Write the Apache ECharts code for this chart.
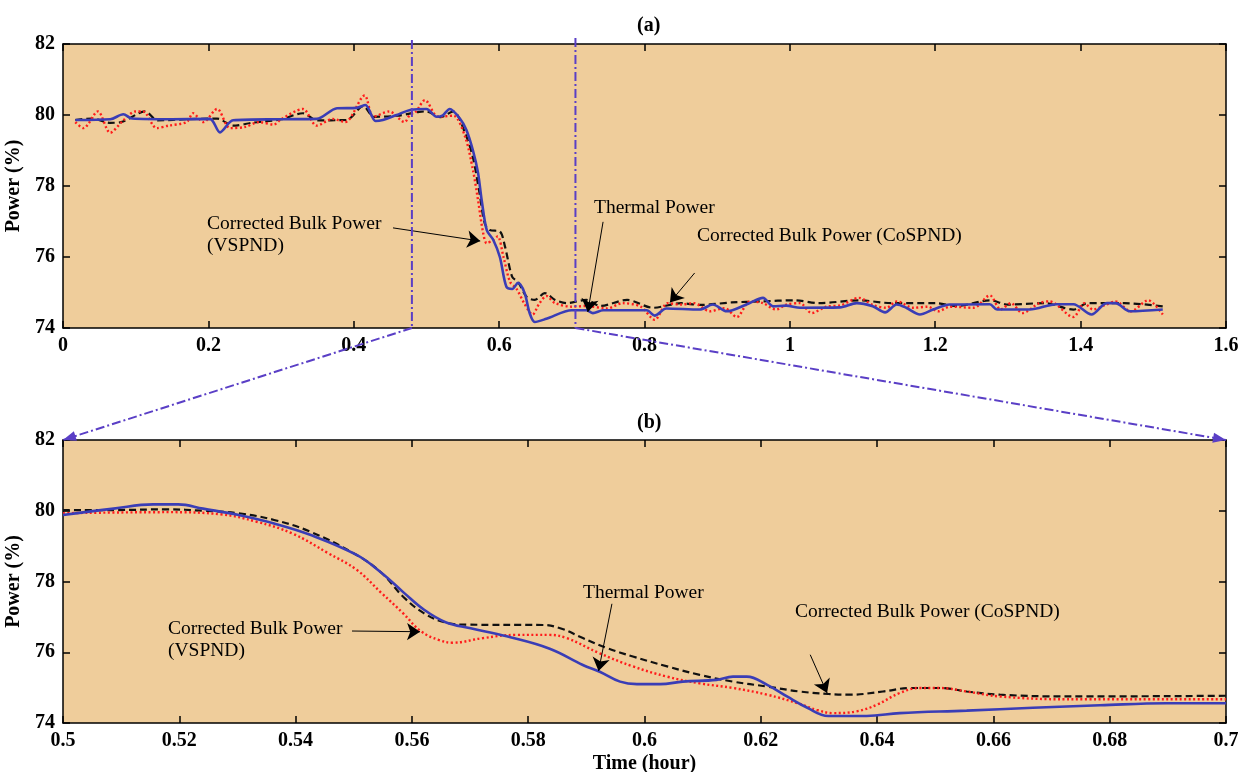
<!DOCTYPE html>
<html>
<head>
<meta charset="utf-8">
<title>Power (%)</title>
<script src="https://cdn.jsdelivr.net/npm/echarts@6.0.0/dist/echarts.min.js"></script>
<style>
html, body { margin: 0; padding: 0; background: #fff; }
#main { width: 1238px; height: 772px; }
</style>
</head>
<body>
<div id="main"></div>
<script>
// axis ranges: [min, max, interval]
var fullTimeRange = [0, 1.6, 0.2];
var zoomTimeRange = [0.5, 0.7, 0.02];
var powerRange = [74, 82, 2];

// (a) whole run, [time (hour), power (%)]
var fullThermal = [[0.017,79.86],[0.065,79.88],[0.083,80.02],[0.095,79.9],[0.15,79.88],[0.202,79.89],[0.216,79.51],[0.234,79.85],[0.30,79.88],[0.349,79.89],[0.377,80.19],[0.404,80.2],[0.416,80.28],[0.43,79.83],[0.44,79.86],[0.459,80.0],[0.479,80.15],[0.50,80.17],[0.514,79.95],[0.522,79.98],[0.532,80.17],[0.546,79.9],[0.555,79.58],[0.564,79.0],[0.571,78.37],[0.576,77.6],[0.583,76.76],[0.592,76.48],[0.601,76.0],[0.610,75.16],[0.618,75.1],[0.626,75.27],[0.635,74.99],[0.642,74.42],[0.649,74.17],[0.665,74.26],[0.70,74.5],[0.72,74.5],[0.729,74.42],[0.743,74.5],[0.803,74.5],[0.814,74.35],[0.83,74.55],[0.876,74.52],[0.894,74.66],[0.913,74.47],[0.941,74.67],[0.963,74.85],[0.977,74.61],[0.995,74.63],[1.014,74.57],[1.069,74.58],[1.092,74.7],[1.114,74.61],[1.131,74.44],[1.147,74.66],[1.16,74.57],[1.179,74.38],[1.197,74.52],[1.22,74.66],[1.275,74.67],[1.285,74.52],[1.33,74.52],[1.367,74.67],[1.39,74.67],[1.415,74.38],[1.436,74.7],[1.448,74.7],[1.468,74.47],[1.513,74.52]];
var fullVspnd = [[0.017,79.8],[0.028,79.63],[0.048,80.1],[0.065,79.5],[0.083,79.85],[0.1,80.1],[0.11,80.1],[0.129,79.63],[0.145,79.7],[0.17,79.8],[0.179,80.05],[0.193,79.8],[0.212,80.17],[0.23,79.63],[0.25,79.66],[0.27,79.8],[0.29,79.73],[0.30,79.88],[0.33,80.17],[0.349,79.7],[0.371,79.89],[0.388,79.8],[0.415,80.55],[0.427,79.95],[0.449,80.1],[0.47,79.8],[0.477,80.0],[0.485,80.08],[0.498,80.42],[0.516,79.95],[0.537,79.98],[0.553,79.4],[0.564,78.45],[0.571,77.6],[0.578,76.68],[0.583,76.39],[0.592,76.48],[0.598,76.58],[0.606,76.0],[0.615,75.3],[0.624,75.1],[0.635,74.68],[0.646,74.38],[0.655,74.68],[0.665,74.9],[0.677,74.7],[0.70,74.6],[0.72,74.62],[0.748,74.55],[0.77,74.7],[0.795,74.6],[0.814,74.23],[0.832,74.7],[0.85,74.66],[0.868,74.7],[0.89,74.47],[0.91,74.56],[0.927,74.31],[0.945,74.75],[0.963,74.7],[0.981,74.52],[0.995,74.66],[1.014,74.7],[1.03,74.42],[1.05,74.6],[1.07,74.64],[1.095,74.85],[1.115,74.64],[1.133,74.57],[1.147,74.75],[1.17,74.57],[1.19,74.6],[1.204,74.47],[1.22,74.6],[1.253,74.57],[1.275,74.92],[1.29,74.52],[1.304,74.7],[1.32,74.42],[1.343,74.7],[1.357,74.75],[1.39,74.31],[1.405,74.7],[1.417,74.52],[1.435,74.66],[1.448,74.75],[1.469,74.47],[1.493,74.78],[1.513,74.38]];
var fullCospnd = [[0.017,79.86],[0.04,79.9],[0.065,79.78],[0.08,79.8],[0.113,80.1],[0.13,79.85],[0.17,79.88],[0.212,79.9],[0.234,79.7],[0.26,79.78],[0.30,79.88],[0.33,80.05],[0.349,79.85],[0.39,79.86],[0.413,80.25],[0.428,79.95],[0.46,79.98],[0.49,80.09],[0.50,80.1],[0.519,79.94],[0.537,80.1],[0.553,79.5],[0.564,78.8],[0.573,77.8],[0.58,76.96],[0.587,76.76],[0.601,76.72],[0.608,76.3],[0.618,75.44],[0.626,75.3],[0.638,74.87],[0.649,74.79],[0.663,74.98],[0.677,74.79],[0.693,74.7],[0.72,74.79],[0.739,74.62],[0.776,74.79],[0.812,74.57],[0.85,74.7],[0.876,74.65],[0.92,74.72],[0.96,74.75],[1.007,74.78],[1.04,74.7],[1.095,74.78],[1.14,74.7],[1.2,74.7],[1.23,74.62],[1.275,74.78],[1.3,74.66],[1.35,74.7],[1.39,74.52],[1.41,74.7],[1.46,74.7],[1.513,74.61]];

// (b) zoom on 0.5 - 0.7 hour
var zoomThermal = [[0.5,79.88],[0.5087,80.06],[0.5155,80.18],[0.5198,80.18],[0.5241,80.06],[0.5302,79.88],[0.5363,79.64],[0.5425,79.32],[0.5505,78.75],[0.5548,78.24],[0.5585,77.7],[0.5621,77.2],[0.5658,76.85],[0.5701,76.68],[0.5763,76.45],[0.5837,76.1],[0.5894,75.64],[0.5923,75.45],[0.5958,75.17],[0.5987,75.1],[0.6027,75.1],[0.6066,75.17],[0.6124,75.22],[0.6152,75.31],[0.6176,75.31],[0.6211,75.08],[0.6245,74.75],[0.628,74.43],[0.6316,74.2],[0.6382,74.2],[0.6439,74.28],[0.6554,74.35],[0.6668,74.43],[0.6783,74.5],[0.6898,74.56],[0.7,74.56]];
var zoomVspnd = [[0.5,79.93],[0.5179,79.96],[0.5271,79.9],[0.5333,79.69],[0.5394,79.36],[0.5456,78.8],[0.5505,78.33],[0.5548,77.67],[0.5585,77.1],[0.5615,76.6],[0.5646,76.35],[0.567,76.27],[0.5722,76.4],[0.578,76.49],[0.5837,76.49],[0.5866,76.4],[0.5923,75.97],[0.598,75.6],[0.6039,75.31],[0.6095,75.12],[0.6152,74.99],[0.6211,74.8],[0.6267,74.54],[0.6296,74.37],[0.6324,74.28],[0.6365,74.33],[0.64,74.52],[0.6439,74.85],[0.6473,74.99],[0.6508,74.99],[0.6554,74.89],[0.6611,74.75],[0.6727,74.67],[0.7,74.67]];
var zoomCospnd = [[0.5,80.02],[0.5087,80.02],[0.5179,80.04],[0.5241,80.0],[0.5302,79.93],[0.5363,79.74],[0.5425,79.41],[0.5505,78.75],[0.5548,78.24],[0.5585,77.57],[0.5621,77.1],[0.5658,76.84],[0.5695,76.78],[0.5825,76.77],[0.5855,76.68],[0.5894,76.4],[0.5935,76.12],[0.598,75.88],[0.6039,75.6],[0.6095,75.36],[0.6152,75.17],[0.6211,75.03],[0.6267,74.89],[0.6316,74.82],[0.6353,74.8],[0.641,74.89],[0.6457,74.99],[0.6508,74.99],[0.6554,74.89],[0.6611,74.8],[0.6727,74.75],[0.7,74.77]];

var serif = 'Liberation Serif';
var zoomColor = '#5a3fc6';

function valueAxis(grid, range, pos, labels) {
	return {
		type : 'value',
		gridIndex : grid,
		position : pos,
		min : range[0],
		max : range[1],
		interval : range[2],
		axisLine : { show : true, onZero : false, lineStyle : { color : '#000', width : 1.5 } },
		axisTick : { show : true, inside : true, length : 7, lineStyle : { color : '#000', width : 1.5 } },
		axisLabel : { show : labels, color : '#000', fontFamily : serif, fontWeight : 'bold', fontSize : 20, margin : 8 },
		splitLine : { show : false }
	};
}

function powerAxis(grid, pos, labels) {
	var ax = valueAxis(grid, powerRange, pos, labels);
	if (labels) {
		ax.name = 'Power (%)';
		ax.nameLocation = 'middle';
		ax.nameGap = 29;
		ax.nameTextStyle = { color : '#000', fontFamily : serif, fontWeight : 'bold', fontSize : 20 };
	}
	return ax;
}

function curve(name, data, axis, kind, smooth, arrows) {
	var styles = {
		thermal : { color : '#3a3db6', width : 2.6, type : 'solid' },
		vspnd : { color : '#ff1a1a', width : 2.4, type : [2, 2.5] },
		cospnd : { color : '#111', width : 2.2, type : [7, 4] }
	};
	var s = {
		name : name,
		type : 'line',
		xAxisIndex : axis,
		yAxisIndex : axis,
		data : data,
		showSymbol : false,
		smooth : smooth,
		lineStyle : styles[kind],
		z : kind == 'thermal' ? 4 : 3
	};
	if (arrows) {
		// annotation pointers
		s.markLine = {
			silent : true,
			symbol : [ 'none', 'arrow' ],
			symbolSize : 13,
			label : { show : false },
			lineStyle : { color : '#000', width : 1, type : 'solid' },
			itemStyle : { color : '#000' },
			data : arrows.map(function(a) {
				return [ { coord : a[0] }, { coord : a[1] } ];
			})
		};
	}
	return s;
}

function note(text, left, top) {
	return {
		type : 'text',
		left : left,
		top : top,
		z : 10,
		style : { text : text, fill : '#000', font : '19.5px "Liberation Serif"', lineHeight : 22 }
	};
}

var chart = echarts.init(document.getElementById('main'));

var option = {
	animation : false,
	backgroundColor : '#fff',
	title : [
		{ text : '(a)', left : 632, top : 11, textStyle : { fontFamily : serif, fontWeight : 'bold', fontSize : 20, color : '#000' } },
		{ text : '(b)', left : 632, top : 408, textStyle : { fontFamily : serif, fontWeight : 'bold', fontSize : 20, color : '#000' } }
	],
	grid : [
		{ left : 63, right : 12, top : 44, height : 284, show : true, backgroundColor : '#efcd9b', borderWidth : 0, containLabel : false, outerBoundsMode : 'none' },
		{ left : 63, right : 12, top : 440, height : 283, show : true, backgroundColor : '#efcd9b', borderWidth : 0, containLabel : false, outerBoundsMode : 'none' }
	],
	xAxis : [
		valueAxis(0, fullTimeRange, 'bottom', true),
		valueAxis(0, fullTimeRange, 'top', false),
		valueAxis(1, zoomTimeRange, 'bottom', true),
		valueAxis(1, zoomTimeRange, 'top', false)
	],
	yAxis : [
		powerAxis(0, 'left', true),
		powerAxis(0, 'right', false),
		powerAxis(1, 'left', true),
		powerAxis(1, 'right', false)
	],
	series : [
		curve('Corrected Bulk Power (CoSPND)', fullCospnd, 0, 'cospnd', 0.3, [
			[ [0.454, 76.82], [0.574, 76.45] ],
			[ [0.743, 76.99], [0.722, 74.45] ],
			[ [0.869, 75.55], [0.835, 74.72] ]
		]),
		curve('Corrected Bulk Power (VSPND)', fullVspnd, 0, 'vspnd', 0.3),
		curve('Thermal Power', fullThermal, 0, 'thermal', 0.3),
		curve('Corrected Bulk Power (CoSPND)', zoomCospnd, 2, 'cospnd', 0.4, [
			[ [0.5497, 76.60], [0.5614, 76.58] ],
			[ [0.5944, 77.37], [0.5921, 75.47] ],
			[ [0.6285, 75.93], [0.6314, 74.85] ]
		]),
		curve('Corrected Bulk Power (VSPND)', zoomVspnd, 2, 'vspnd', 0.4),
		curve('Thermal Power', zoomThermal, 2, 'thermal', 0.4)
	]
};
option.xAxis[2].name = 'Time (hour)';
option.xAxis[2].nameLocation = 'middle';
option.xAxis[2].nameGap = 31;
option.xAxis[2].nameTextStyle = { color : '#000', fontFamily : serif, fontWeight : 'bold', fontSize : 20 };

chart.setOption(option);

// zoom connectors from (a) down to (b)
function px(axis, pt) {
	return chart.convertToPixel({ xAxisIndex : axis, yAxisIndex : axis }, pt);
}

function dashLine(a, b) {
	return {
		type : 'line',
		z : 20,
		shape : { x1 : a[0], y1 : a[1], x2 : b[0], y2 : b[1] },
		style : { stroke : zoomColor, lineWidth : 2, lineDash : [ 9, 3, 2, 3 ] }
	};
}

function arrowHead(a, b) {
	var dx = b[0] - a[0], dy = b[1] - a[1];
	var len = Math.sqrt(dx * dx + dy * dy);
	var ux = dx / len, uy = dy / len;
	var bx = b[0] - ux * 13, by = b[1] - uy * 13;
	return {
		type : 'polygon',
		z : 21,
		shape : { points : [ b, [ bx - uy * 5, by + ux * 5 ], [ bx + uy * 5, by - ux * 5 ] ] },
		style : { fill : zoomColor }
	};
}

var leftTop = px(0, [0.48, 82]), leftBot = px(0, [0.48, 74]);
var rightTop = px(0, [0.705, 82]), rightBot = px(0, [0.705, 74]);
var zoomLeft = px(2, [0.5, 82]), zoomRight = px(2, [0.7, 82]);
leftTop[1] -= 4;
rightTop[1] -= 6;

chart.setOption({
	graphic : [
		dashLine(leftTop, leftBot),
		dashLine(rightTop, rightBot),
		dashLine(leftBot, zoomLeft),
		arrowHead(leftBot, zoomLeft),
		dashLine(rightBot, zoomRight),
		arrowHead(rightBot, zoomRight),
		note('Corrected Bulk Power\n(VSPND)', 207, 213),
		note('Thermal Power', 594, 197),
		note('Corrected Bulk Power (CoSPND)', 697, 225),
		note('Corrected Bulk Power\n(VSPND)', 168, 618),
		note('Thermal Power', 583, 582),
		note('Corrected Bulk Power (CoSPND)', 795, 601)
	]
});
</script>
</body>
</html>
